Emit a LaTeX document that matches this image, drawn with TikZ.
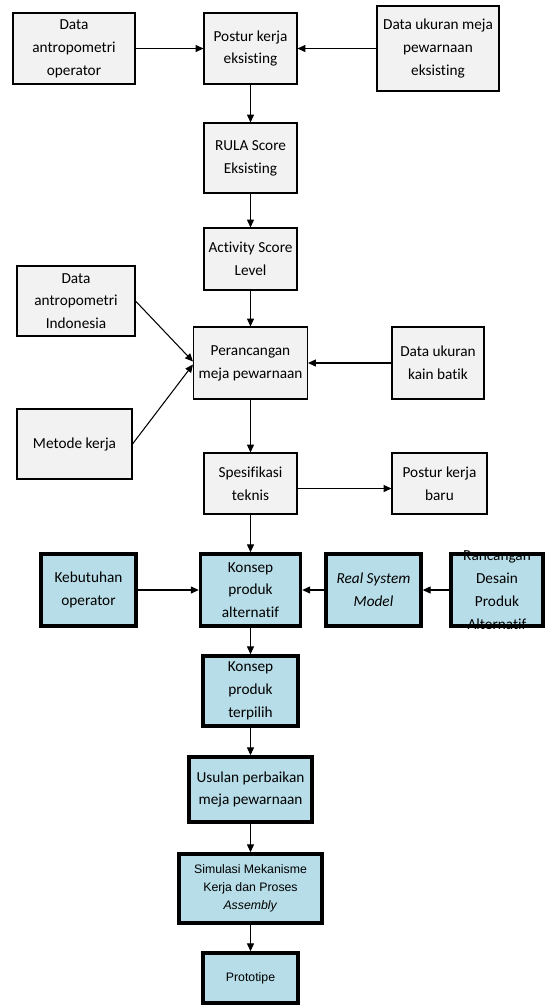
\documentclass[tikz,border=0pt]{standalone}
\usepackage{fontspec}
\setmainfont[Ligatures=NoCommon]{Carlito}
\newfontfamily\arialfont{Liberation Sans}
\usepackage{tikz}
\usetikzlibrary{arrows.meta}
\definecolor{boxgrey}{HTML}{F2F2F2}
\definecolor{boxblue}{HTML}{B7DDE8}

\begin{document}
\begin{tikzpicture}[x=0.02cm, y=-0.02cm,
every node/.style={align=center, inner sep=1pt, font=\fontsize{8.7}{13}\selectfont},
greybox/.style={draw, line width=0.6pt, fill=boxgrey},
bluebox/.style={draw, line width=2pt, fill=boxblue},
arialtext/.style={font=\arialfont\fontsize{7}{10.4}\selectfont},
arr/.style={line width=0.6pt, -{Triangle[length=4.5pt,width=4pt]}}]
\useasboundingbox (0,0) rectangle (545,1005);

\node[greybox, minimum width=2.44cm, minimum height=1.42cm] (antopr) at (74,48.5) {Data\\antropometri\\operator};
\node[greybox, minimum width=1.86cm, minimum height=1.42cm] (posturlama) at (250.5,48.5) {Postur kerja\\eksisting};
\node[greybox, minimum width=2.44cm, minimum height=1.70cm] (mejalama) at (438,48.5) {Data ukuran meja\\pewarnaan\\eksisting};
\node[greybox, minimum width=1.86cm, minimum height=1.40cm] (rula) at (250.5,158) {RULA Score\\Eksisting};
\node[greybox, minimum width=1.86cm, minimum height=1.24cm] (activity) at (250.5,259) {Activity Score\\Level};

\node[greybox, minimum width=2.36cm, minimum height=1.40cm] (antindo) at (76,301) {Data\\antropometri\\Indonesia};
\node[greybox, minimum width=2.28cm, minimum height=1.44cm] (rancang) at (250.5,363) {Perancangan\\meja pewarnaan};
\node[greybox, minimum width=1.84cm, minimum height=1.44cm] (kain) at (438,363) {Data ukuran\\kain batik};
\node[greybox, minimum width=2.30cm, minimum height=1.40cm] (metode) at (74.5,444) {Metode kerja};
\node[greybox, minimum width=1.86cm, minimum height=1.22cm] (spek) at (250.5,483.5) {Spesifikasi\\teknis};
\node[greybox, minimum width=1.90cm, minimum height=1.22cm] (posturbaru) at (439.5,483.5) {Postur kerja\\baru};

\node[bluebox, minimum width=1.90cm, minimum height=1.44cm] (butuh) at (88.5,590) {Kebutuhan\\operator};
\node[bluebox, minimum width=2.00cm, minimum height=1.44cm] (konsepalt) at (250.5,590) {Konsep\\produk\\alternatif};
\node[bluebox, minimum width=1.90cm, minimum height=1.44cm] (rsm) at (373.5,590) {\textit{Real System}\\\textit{Model}};
\node[bluebox, minimum width=1.84cm, minimum height=1.44cm] (desain) at (497,590) {};
\begin{scope}
\clip ([yshift=0.12cm]desain.north west) rectangle ([yshift=-0.14cm]desain.south east);
\node (desaintext) at (desain) {Rancangan\\Desain\\Produk\\Alternatif};
\end{scope}

\node[bluebox, minimum width=1.90cm, minimum height=1.40cm] (konseppilih) at (250.5,691) {Konsep\\produk\\terpilih};
\node[bluebox, minimum width=2.46cm, minimum height=1.30cm] (usulan) at (250.5,789.5) {Usulan perbaikan\\meja pewarnaan};
\node[bluebox, arialtext, minimum width=2.86cm, minimum height=1.38cm] (simulasi) at (250.5,888.5) {Simulasi Mekanisme\\Kerja dan Proses\\\textit{Assembly}};
\node[bluebox, arialtext, minimum width=1.90cm, minimum height=1.00cm] (proto) at (250.5,978) {Prototipe};

\draw[arr] (antopr) -- (posturlama);
\draw[arr] (mejalama) -- (posturlama);
\draw[arr] (posturlama) -- (rula);
\draw[arr] (rula) -- (activity);
\draw[arr] (activity) -- (rancang);
\draw[arr] (antindo.east) -- ([yshift=0.03cm]rancang.west);
\draw[arr] (metode.east) -- ([yshift=-0.03cm]rancang.west);
\draw[arr] (kain) -- (rancang);
\draw[arr] (rancang) -- (spek);
\draw[arr] ([yshift=-0.1cm]spek.east) -- ([yshift=-0.1cm]posturbaru.west);
\draw[arr] (spek) -- (konsepalt);
\draw[arr] (butuh) -- (konsepalt);
\draw[arr] (rsm) -- (konsepalt);
\draw[arr] (desain) -- (rsm);
\draw[arr] (konsepalt) -- (konseppilih);
\draw[arr] (konseppilih) -- (usulan);
\draw[arr] (usulan) -- (simulasi);
\draw[arr] (simulasi) -- (proto);
\end{tikzpicture}
\end{document}
